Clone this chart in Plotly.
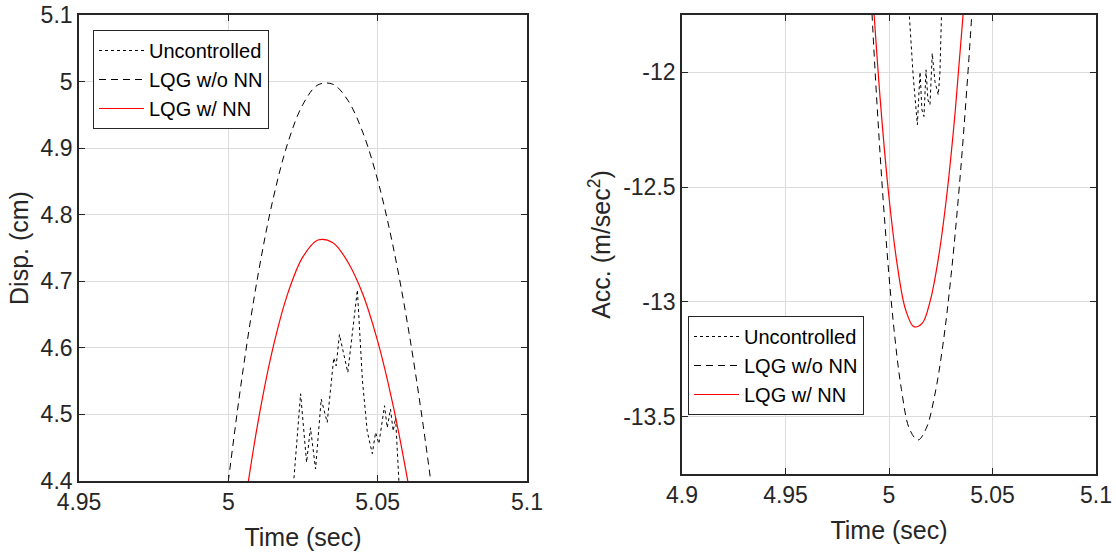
import plotly.graph_objects as go

# ---------------- Left panel: displacement ----------------
disp_t_unc = [5.0200, 5.0219, 5.0242, 5.0262, 5.0275, 5.0292, 5.0311, 5.0331, 5.0353, 5.0361,
              5.0372, 5.0400, 5.0432, 5.0449, 5.0465, 5.0482, 5.0493, 5.0504, 5.0523, 5.0532,
              5.0543, 5.0552, 5.0560, 5.0571, 5.0580]
disp_unc = [4.36, 4.40, 4.531, 4.428, 4.480, 4.418, 4.523, 4.488, 4.585, 4.573,
            4.620, 4.563, 4.687, 4.551, 4.475, 4.441, 4.473, 4.456, 4.513, 4.480,
            4.508, 4.475, 4.495, 4.400, 4.36]

disp_t_lqg = [4.995, 5.000, 5.005, 5.010, 5.015, 5.020, 5.025, 5.030, 5.035,
              5.040, 5.045, 5.050, 5.055, 5.060, 5.065, 5.070]
disp_lqg = [4.22, 4.400, 4.569, 4.711, 4.824, 4.909, 4.966, 4.995, 4.996,
            4.972, 4.924, 4.852, 4.756, 4.636, 4.491, 4.323]

disp_t_nn = [5.005, 5.010, 5.015, 5.020, 5.025, 5.030, 5.035, 5.040, 5.045,
             5.050, 5.055, 5.060, 5.065]
disp_nn = [4.349, 4.490, 4.601, 4.683, 4.737, 4.762, 4.758, 4.729, 4.681,
           4.610, 4.517, 4.402, 4.266]

# ---------------- Right panel: acceleration ----------------
acc_t_unc = [5.0085, 5.0098, 5.0117, 5.0126, 5.0137, 5.0143, 5.0150, 5.0159, 5.0169, 5.0179,
             5.0188, 5.0198, 5.0209, 5.0222, 5.0238, 5.0246, 5.0251, 5.0258]
acc_unc = [-11.60, -11.75, -12.018, -12.105, -12.228, -12.120, -11.999, -12.163, -12.192, -11.989,
           -12.120, -12.141, -11.917, -12.040, -12.098, -12.003, -11.764, -11.60]

acc_t_lqg = [4.990, 4.994, 4.998, 5.002, 5.006, 5.010, 5.014, 5.018, 5.022, 5.026,
             5.030, 5.034, 5.038, 5.042]
acc_lqg = [-11.430, -12.107, -12.657, -13.082, -13.381, -13.556, -13.602, -13.551, -13.411, -13.190,
           -12.884, -12.494, -12.019, -11.460]

acc_t_nn = [4.992, 4.996, 5.000, 5.004, 5.008, 5.012, 5.016, 5.020, 5.024, 5.028,
            5.032, 5.036, 5.040]
acc_nn = [-11.641, -12.145, -12.544, -12.840, -13.033, -13.108, -13.094, -12.992, -12.802, -12.528,
          -12.168, -11.726, -11.200]

series_names = ["Uncontrolled", "LQG w/o NN", "LQG w/ NN"]

left_x_ticks = [4.95, 5.0, 5.05, 5.1]
left_x_text = ["4.95", "5", "5.05", "5.1"]
left_y_ticks = [4.4, 4.5, 4.6, 4.7, 4.8, 4.9, 5.0, 5.1]
left_y_text = ["4.4", "4.5", "4.6", "4.7", "4.8", "4.9", "5", "5.1"]
right_x_ticks = [4.9, 4.95, 5.0, 5.05, 5.1]
right_x_text = ["4.9", "4.95", "5", "5.05", "5.1"]
right_y_ticks = [-13.5, -13.0, -12.5, -12.0]
right_y_text = ["-13.5", "-13", "-12.5", "-12"]

W, H = 1116, 552
MT, MB = 15, 71
PH = H - MT - MB

FONT = "Liberation Sans, Arial, sans-serif"
AXC = "#262626"

fig = go.Figure()

styles = [dict(color="black", width=1, dash="dot"),
          dict(color="black", width=1, dash="7px,5px"),
          dict(color="#ff0000", width=1.2)]

def line_style(nm, st):
    if nm == "Uncontrolled":
        return st
    return dict(shape="spline", smoothing=1.0, **st)

for xs, ys, nm, st in zip([disp_t_unc, disp_t_lqg, disp_t_nn], [disp_unc, disp_lqg, disp_nn],
                          series_names, styles):
    fig.add_trace(go.Scatter(x=xs, y=ys, mode="lines", name=nm, line=line_style(nm, st),
                             xaxis="x", yaxis="y", legend="legend"))

for xs, ys, nm, st in zip([acc_t_unc, acc_t_lqg, acc_t_nn], [acc_unc, acc_lqg, acc_nn],
                          series_names, styles):
    fig.add_trace(go.Scatter(x=xs, y=ys, mode="lines", name=nm, line=line_style(nm, st),
                             xaxis="x2", yaxis="y2", legend="legend2"))

def ax(rng, tv, tt, dom, anchor, title=None, standoff=None):
    d = dict(range=rng, tickvals=tv, ticktext=tt, domain=dom, anchor=anchor,
             showline=True, linecolor=AXC, linewidth=1.6, mirror="ticks",
             ticks="inside", ticklen=6, tickcolor=AXC, tickwidth=1.2,
             showgrid=True, gridcolor="#dcdcdc", gridwidth=1, zeroline=False,
             tickfont=dict(family=FONT, size=23, color=AXC), automargin=False)
    if title is not None:
        d["title"] = dict(text=title, font=dict(family=FONT, size=25, color=AXC), standoff=standoff)
    return d

bottom_right = (481 - 474) / PH

fig.update_layout(
    width=W, height=H,
    margin=dict(l=0, r=0, t=MT, b=MB),
    paper_bgcolor="white", plot_bgcolor="white",
    showlegend=True,
    xaxis=ax([4.95, 5.1], left_x_ticks, left_x_text, [79 / W, 527 / W], "y", "Time (sec)", 14),
    yaxis=ax([4.4, 5.1], left_y_ticks, left_y_text, [0, 1], "x", "Disp. (cm)", 5),
    xaxis2=ax([4.9, 5.1], right_x_ticks, right_x_text, [682 / W, 1096 / W], "y2", "Time (sec)", 14),
    yaxis2=ax([-13.75, -11.75], right_y_ticks, right_y_text, [bottom_right, 1], "x2",
              "Acc. (m/sec<sup>2</sup>)", 5),
    legend=dict(x=93 / W, y=(481 - 30) / PH, xanchor="left", yanchor="top",
                bgcolor="white", bordercolor=AXC, borderwidth=1, itemwidth=45,
                font=dict(family=FONT, size=20, color="black"), tracegroupgap=0),
    legend2=dict(x=688 / W, y=(481 - 316) / PH, xanchor="left", yanchor="top",
                 bgcolor="white", bordercolor=AXC, borderwidth=1, itemwidth=45,
                 font=dict(family=FONT, size=20, color="black"), tracegroupgap=0),
)

fig.write_html("out.html")
